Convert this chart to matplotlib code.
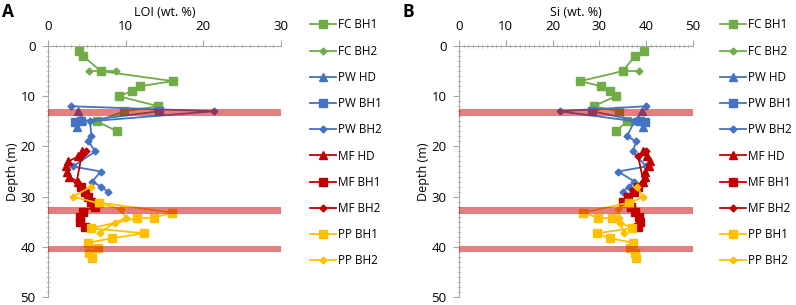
import matplotlib
matplotlib.use("Agg")
from matplotlib import pyplot as plt
from matplotlib.ticker import MultipleLocator

plt.rcParams["font.family"] = ["Open Sans", "DejaVu Sans"]

# depth (m) of each sample and values
fc_bh1_depth = [1, 2, 5, 7, 8, 9, 10, 12, 13, 15, 17]
fc_bh1_loi = [4.0, 4.5, 6.8, 16.1, 11.9, 10.8, 9.1, 14.2, 9.8, 6.3, 8.9]
fc_bh1_si = [39.6, 37.6, 35.0, 25.9, 30.3, 32.3, 33.5, 28.8, 34.2, 35.9, 33.5]

fc_bh2_depth = [5, 5]
fc_bh2_loi = [5.3, 8.8]
fc_bh2_si = [38.4, 34.8]

pw_hd_depth = [13, 14.7, 16.2]
pw_hd_loi = [3.8, 4.4, 3.7]
pw_hd_si = [39.1, 38.0, 39.3]

pw_bh1_depth = [13, 15, 15.2]
pw_bh1_loi = [14.3, 4.2, 3.5]
pw_bh1_si = [28.5, 38.6, 39.8]

pw_bh2_depth = [12, 13, 15, 18, 19, 21, 24, 25, 27, 28, 29]
pw_bh2_loi = [3.0, 21.4, 5.4, 5.6, 5.2, 6.1, 3.2, 6.8, 5.7, 6.8, 7.7]
pw_bh2_si = [40.0, 21.5, 37.5, 35.9, 37.9, 37.1, 40.0, 34.0, 37.5, 36.3, 35.0]

mf_hd_depth = [21, 22, 23, 24, 25, 26, 27]
mf_hd_loi = [4.4, 3.9, 2.6, 2.3, 2.5, 2.7, 3.8]
mf_hd_si = [39.3, 40.2, 40.9, 40.5, 39.8, 39.7, 39.3]

mf_bh1_depth = [28, 29, 30, 31, 32, 33, 34, 35, 36]
mf_bh1_loi = [4.3, 4.8, 5.2, 5.5, 6.0, 4.5, 4.1, 4.1, 4.8]
mf_bh1_si = [38.2, 37.5, 36.1, 35.0, 36.8, 37.7, 38.4, 38.6, 38.2]

mf_bh2_depth = [21, 22, 27]
mf_bh2_loi = [4.9, 4.3, 3.7]
mf_bh2_si = [40.0, 38.3, 39.4]

pp_bh1_depth = [31.2, 33.2, 34.2, 34.3, 36.3, 37.3, 38.3, 39.2, 40.3, 41.3, 42.3]
pp_bh1_loi = [6.6, 16.0, 13.6, 11.4, 5.5, 12.4, 8.2, 5.2, 6.4, 5.3, 5.7]
pp_bh1_si = [36.3, 26.5, 29.7, 32.6, 37.0, 29.5, 32.3, 37.2, 36.6, 37.6, 37.9]

pp_bh2_depth = [28, 30, 32.5, 34.2, 35.2, 37.2]
pp_bh2_loi = [5.6, 3.2, 9.4, 10.0, 8.6, 6.7]
pp_bh2_si = [38.0, 39.3, 34.0, 34.2, 34.5, 35.2]

band_depths = [13.2, 32.8, 40.4]

GREEN, BLUE, RED, YELLOW = "#70AD47", "#4472C4", "#C00000", "#FFC000"

series = [
    ("FC BH1", fc_bh1_depth, fc_bh1_loi, fc_bh1_si, GREEN, "s", 5.5),
    ("FC BH2", fc_bh2_depth, fc_bh2_loi, fc_bh2_si, GREEN, "D", 3.5),
    ("PW HD", pw_hd_depth, pw_hd_loi, pw_hd_si, BLUE, "^", 5.5),
    ("PW BH1", pw_bh1_depth, pw_bh1_loi, pw_bh1_si, BLUE, "s", 5.5),
    ("PW BH2", pw_bh2_depth, pw_bh2_loi, pw_bh2_si, BLUE, "D", 3.5),
    ("MF HD", mf_hd_depth, mf_hd_loi, mf_hd_si, RED, "^", 5.5),
    ("MF BH1", mf_bh1_depth, mf_bh1_loi, mf_bh1_si, RED, "s", 5.5),
    ("MF BH2", mf_bh2_depth, mf_bh2_loi, mf_bh2_si, RED, "D", 3.5),
    ("PP BH1", pp_bh1_depth, pp_bh1_loi, pp_bh1_si, YELLOW, "s", 5.5),
    ("PP BH2", pp_bh2_depth, pp_bh2_loi, pp_bh2_si, YELLOW, "D", 3.5),
]

fig = plt.figure(figsize=(7.96, 3.05), dpi=100)


def draw_panel(rect, value_index, xmax, xstep, title, letter, letter_x, legend_x):
    ax = fig.add_axes(rect)
    for s in series:
        name, depth, color, marker, size = s[0], s[1], s[4], s[5], s[6]
        ax.plot(s[value_index], depth, color=color, marker=marker, markersize=size,
                linewidth=1.3, label=name)
    for d in band_depths:
        ax.axhspan(d - 0.65, d + 0.65, color="#cc0000", alpha=0.5, lw=0, zorder=5)
    ax.set_xlim(0, xmax)
    ax.set_ylim(50, 0)
    ax.xaxis.tick_top()
    ax.xaxis.set_label_position("top")
    ax.xaxis.set_major_locator(MultipleLocator(xstep))
    ax.xaxis.set_minor_locator(MultipleLocator(1))
    ax.yaxis.set_major_locator(MultipleLocator(10))
    ax.yaxis.set_minor_locator(MultipleLocator(1))
    for side in ["right", "bottom"]:
        ax.spines[side].set_visible(False)
    for side in ["left", "top"]:
        ax.spines[side].set_color("#A6A6A6")
        ax.spines[side].set_linewidth(0.8)
    ax.tick_params(which="major", direction="out", length=4, color="#A6A6A6",
                   labelsize=9.5, pad=5)
    ax.tick_params(which="minor", direction="inout", length=3, color="#BFBFBF", width=0.6)
    ax.set_xlabel(title, fontsize=9, labelpad=3)
    ax.set_ylabel("Depth (m)", fontsize=9, labelpad=1)
    fig.text(letter_x, 0.99, letter, fontsize=12.5, fontweight="bold", va="top", ha="left")
    ax.legend(loc="upper left", bbox_to_anchor=(legend_x, 0.955), bbox_transform=fig.transFigure,
              frameon=False, fontsize=8.5, handlelength=2.2, labelspacing=1.12,
              handletextpad=0.2, borderaxespad=0)
    return ax


draw_panel([0.0603, 0.0262, 0.2927, 0.823], 2, 30, 10, "LOI (wt. %)", "A", 0.003, 0.383)
draw_panel([0.5766, 0.0262, 0.294, 0.823], 3, 50, 10, "Si (wt. %)", "B", 0.506, 0.898)

fig.savefig("out.png", dpi=100)
